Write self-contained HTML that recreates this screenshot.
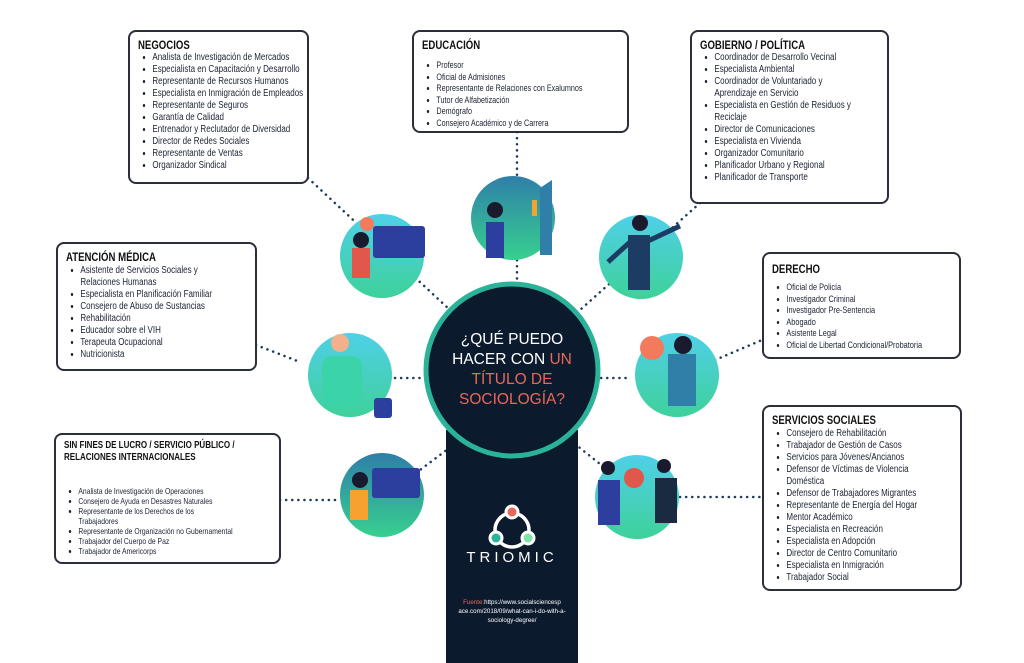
<!DOCTYPE html>
<html><head><meta charset="utf-8"><style>
body{margin:0;width:1024px;height:663px;background:#fff;position:relative;overflow:hidden;font-family:"Liberation Sans",sans-serif;color:#1b2233}
.box{position:absolute;border:2px solid #2a2f3a;border-radius:8px;background:#fff;box-sizing:border-box;overflow:hidden}
.in{transform:scaleX(0.8);transform-origin:0 0;width:125%}
.box h3{margin:0;font-size:12px;font-weight:bold;color:#111;white-space:nowrap}
.box ul{margin:1px 0 0 0;padding-left:18px;font-size:10px;line-height:12px}
.box li{white-space:nowrap}
svg{position:absolute;left:0;top:0}
</style></head><body>
<svg width="1024" height="663">
<defs>
<linearGradient id="g" x1="0" y1="0" x2="0" y2="1"><stop offset="0" stop-color="#4fd0e8"/><stop offset="1" stop-color="#3ed19a"/></linearGradient>
<linearGradient id="g2" x1="0" y1="0" x2="0" y2="1"><stop offset="0" stop-color="#2f7fa8"/><stop offset="1" stop-color="#37d08f"/></linearGradient>
</defs>
<g stroke="#1e3a5f" stroke-width="2.5" stroke-dasharray="0.1 6" stroke-linecap="round" fill="none">
<line x1="308" y1="178" x2="450" y2="310"/>
<line x1="517" y1="132" x2="517" y2="290"/>
<line x1="700" y1="203" x2="580" y2="310"/>
<line x1="256" y1="345" x2="300" y2="362"/>
<line x1="395" y1="378" x2="430" y2="378"/>
<line x1="595" y1="378" x2="630" y2="378"/>
<line x1="715" y1="360" x2="762" y2="340"/>
<line x1="280" y1="500" x2="340" y2="500"/>
<line x1="460" y1="440" x2="420" y2="470"/>
<line x1="570" y1="440" x2="605" y2="468"/>
<line x1="680" y1="497" x2="762" y2="497"/>
</g>
<rect x="446" y="430" width="132" height="233" fill="#0c1a2d"/>
<circle cx="512" cy="370" r="86" fill="#0c1a2d" stroke="#2bb39a" stroke-width="5"/>
<g>
<circle cx="382" cy="256" r="42" fill="url(#g)"/><rect x="373" y="226" width="52" height="32" rx="3" fill="#2d3f9e"/><rect x="352" y="248" width="18" height="30" fill="#e2574c"/><circle cx="361" cy="240" r="8" fill="#1a1a2e"/><circle cx="367" cy="224" r="7" fill="#f47a5e"/>
<circle cx="513" cy="218" r="42" fill="url(#g2)"/><path d="M540 188 L552 180 L552 255 L540 255Z" fill="#2f7fa8"/><rect x="486" y="222" width="18" height="36" fill="#2d3f9e"/><circle cx="495" cy="210" r="8" fill="#1a1a2e"/><rect x="532" y="200" width="5" height="16" fill="#f7a230"/>
<circle cx="641" cy="257" r="42" fill="url(#g)"/><rect x="628" y="235" width="22" height="55" fill="#1c3c63"/><circle cx="640" cy="223" r="8" fill="#1a1a2e"/><path d="M608 262 L630 242 L650 240 L680 226" stroke="#1c3c63" stroke-width="5" fill="none"/>
<circle cx="350" cy="375" r="42" fill="url(#g)"/><rect x="322" y="356" width="40" height="50" rx="10" fill="#3bd4a9"/><circle cx="340" cy="343" r="9" fill="#f4b08a"/><rect x="374" y="398" width="18" height="20" rx="3" fill="#2d3f9e"/>
<circle cx="677" cy="375" r="42" fill="url(#g)"/><rect x="668" y="354" width="28" height="52" fill="#2f7fa8"/><circle cx="652" cy="348" r="12" fill="#f47a5e"/><circle cx="683" cy="345" r="9" fill="#1a1a2e"/>
<circle cx="382" cy="495" r="42" fill="url(#g2)"/><rect x="372" y="468" width="48" height="30" rx="3" fill="#2d3f9e"/><rect x="350" y="490" width="18" height="30" fill="#f7a230"/><circle cx="360" cy="480" r="8" fill="#1a1a2e"/>
<circle cx="637" cy="497" r="42" fill="url(#g)"/><rect x="598" y="480" width="22" height="45" fill="#2d3f9e"/><rect x="655" y="478" width="22" height="45" fill="#1a2a40"/><circle cx="634" cy="478" r="10" fill="#e2574c"/><circle cx="608" cy="468" r="7" fill="#1a1a2e"/><circle cx="664" cy="466" r="7" fill="#1a1a2e"/>
</g>
<g fill="none" stroke="#fff" stroke-width="3.5"><circle cx="512" cy="530" r="17"/></g>
<circle cx="512" cy="512" r="6" fill="#e8685a" stroke="#fff" stroke-width="3"/>
<circle cx="496" cy="538" r="6" fill="#2bb39a" stroke="#fff" stroke-width="3"/>
<circle cx="528" cy="538" r="6" fill="#7fe3a8" stroke="#fff" stroke-width="3"/>
</svg>
<div style="position:absolute;left:432px;top:330px;width:160px;text-align:center;font-size:15.5px;line-height:20px;color:#fff">¿QUÉ PUEDO<br>HACER CON <span style="color:#e8685a">UN</span><br><span style="color:#e8685a">TÍTULO DE<br>SOCIOLOGÍA?</span></div>
<div style="position:absolute;left:446px;top:549px;width:132px;text-align:center;font-size:15px;letter-spacing:4px;color:#fff">TRIOMIC</div>
<div style="position:absolute;left:456px;top:598px;width:112px;text-align:center;font-size:6.2px;line-height:9px;color:#fff"><span style="color:#e8685a">Fuente:</span>https://www.socialsciencesp ace.com/2018/09/what-can-i-do-with-a-sociology-degree/</div>

<div class="box" style="left:128px;top:30px;width:181px;height:154px;padding:6px 8px"><div class="in"><h3>NEGOCIOS</h3><ul style="margin-top:0"><li>Analista de Investigación de Mercados</li><li>Especialista en Capacitación y Desarrollo</li><li>Representante de Recursos Humanos</li><li>Especialista en Inmigración de Empleados</li><li>Representante de Seguros</li><li>Garantía de Calidad</li><li>Entrenador y Reclutador de Diversidad</li><li>Director de Redes Sociales</li><li>Representante de Ventas</li><li>Organizador Sindical</li></ul></div></div>
<div class="box" style="left:412px;top:30px;width:217px;height:103px;padding:6px 8px"><div class="in"><h3>EDUCACIÓN</h3><ul style="margin-top:8px;font-size:9px;line-height:11.5px"><li>Profesor</li><li>Oficial de Admisiones</li><li>Representante de Relaciones con Exalumnos</li><li>Tutor de Alfabetización</li><li>Demógrafo</li><li>Consejero Académico y de Carrera</li></ul></div></div>
<div class="box" style="left:690px;top:30px;width:199px;height:174px;padding:6px 8px"><div class="in"><h3>GOBIERNO / POLÍTICA</h3><ul style="margin-top:0"><li>Coordinador de Desarrollo Vecinal</li><li>Especialista Ambiental</li><li>Coordinador de Voluntariado y<br>Aprendizaje en Servicio</li><li>Especialista en Gestión de Residuos y<br>Reciclaje</li><li>Director de Comunicaciones</li><li>Especialista en Vivienda</li><li>Organizador Comunitario</li><li>Planificador Urbano y Regional</li><li>Planificador de Transporte</li></ul></div></div>
<div class="box" style="left:56px;top:242px;width:201px;height:129px;padding:6px 8px"><div class="in"><h3>ATENCIÓN MÉDICA</h3><ul><li>Asistente de Servicios Sociales y<br>Relaciones Humanas</li><li>Especialista en Planificación Familiar</li><li>Consejero de Abuso de Sustancias</li><li>Rehabilitación</li><li>Educador sobre el VIH</li><li>Terapeuta Ocupacional</li><li>Nutricionista</li></ul></div></div>
<div class="box" style="left:762px;top:252px;width:199px;height:107px;padding:8px 8px"><div class="in"><h3>DERECHO</h3><ul style="margin-top:6px;font-size:9.2px;line-height:11.5px"><li>Oficial de Policía</li><li>Investigador Criminal</li><li>Investigador Pre-Sentencia</li><li>Abogado</li><li>Asistente Legal</li><li>Oficial de Libertad Condicional/Probatoria</li></ul></div></div>
<div class="box" style="left:54px;top:433px;width:227px;height:131px;padding:5px 8px"><div class="in"><h3 style="font-size:10px;line-height:12px">SIN FINES DE LUCRO / SERVICIO PÚBLICO /<br>RELACIONES INTERNACIONALES</h3><ul style="margin-top:22px;font-size:8.5px;line-height:10px"><li>Analista de Investigación de Operaciones</li><li>Consejero de Ayuda en Desastres Naturales</li><li>Representante de los Derechos de los<br>Trabajadores</li><li>Representante de Organización no Gubernamental</li><li>Trabajador del Cuerpo de Paz</li><li>Trabajador de Americorps</li></ul></div></div>
<div class="box" style="left:762px;top:405px;width:200px;height:186px;padding:6px 8px"><div class="in"><h3>SERVICIOS SOCIALES</h3><ul><li>Consejero de Rehabilitación</li><li>Trabajador de Gestión de Casos</li><li>Servicios para Jóvenes/Ancianos</li><li>Defensor de Víctimas de Violencia<br>Doméstica</li><li>Defensor de Trabajadores Migrantes</li><li>Representante de Energía del Hogar</li><li>Mentor Académico</li><li>Especialista en Recreación</li><li>Especialista en Adopción</li><li>Director de Centro Comunitario</li><li>Especialista en Inmigración</li><li>Trabajador Social</li></ul></div></div>
</body></html>
